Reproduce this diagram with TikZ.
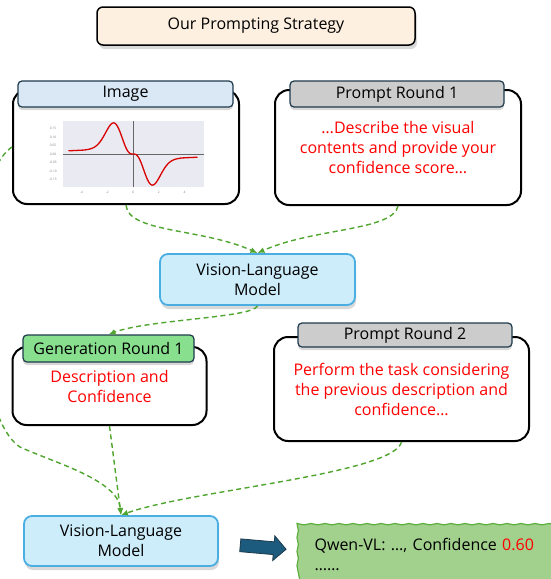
\documentclass[tikz,border=0pt]{standalone}
\usepackage{fontspec}
\setmainfont{Open Sans}
\usepackage{tikz}
\usetikzlibrary{positioning,arrows.meta,shadows,shapes.arrows,decorations.pathmorphing}

\definecolor{peach}{HTML}{FEF0E0}
\definecolor{tabblue}{HTML}{DAE8F5}
\definecolor{tabgray}{HTML}{CCCCCC}
\definecolor{tabgreen}{HTML}{88DF8E}
\definecolor{tabedge}{HTML}{1E3A4C}
\definecolor{vlmfill}{HTML}{CDEDFB}
\definecolor{vlmedge}{HTML}{4BAEE3}
\definecolor{flowgreen}{HTML}{4FA52E}
\definecolor{outfill}{HTML}{A2D18D}
\definecolor{outedge}{HTML}{5DAE3F}
\definecolor{arrfill}{HTML}{1C5B7D}
\definecolor{plotbg}{HTML}{EAEAF2}

\tikzset{
  every node/.style={font=\fontsize{16}{20}\selectfont},
  panel/.style={draw, line width=2pt, rounded corners=14pt, fill=white},
  tab/.style={draw=tabedge, line width=1.2pt, rounded corners=4pt,
    drop shadow={shadow xshift=0pt, shadow yshift=-3pt, opacity=0.3}},
  vlm/.style={draw=vlmedge, fill=vlmfill, line width=1.8pt, rounded corners=8pt,
    align=center, drop shadow={shadow xshift=1pt, shadow yshift=-4pt, opacity=0.3}},
  redtext/.style={text=red, align=center},
  flow/.style={draw=flowgreen, line width=1.4pt, dash pattern=on 5pt off 3.5pt,
    -{Latex[length=7pt,width=6pt]}},
  tick/.style={font=\fontsize{3.2}{3.2}\selectfont, text=gray, inner sep=0pt}
}

\begin{document}
\begin{tikzpicture}[x=1pt, y=-1pt]
\useasboundingbox (0,0) rectangle (551,579);

\node[draw, line width=1.5pt, rounded corners=6pt, fill=peach, minimum width=318pt, minimum height=38pt,
  drop shadow={shadow xshift=2pt, shadow yshift=-4pt, opacity=0.3}] (title) at (256, 26) {Our Prompting Strategy};

\node[panel, minimum width=226pt, minimum height=114pt] (img) at (126, 147) {};
\node[panel, minimum width=246pt, minimum height=115pt, redtext] (pr1) at (398, 147.5)
  {…Describe the visual\\contents and provide your\\confidence score…};
\node[tab, fill=tabblue, minimum width=215pt, minimum height=26pt] (imgtab) at (125.5, 94) {Image};
\node[tab, fill=tabgray, minimum width=214pt, minimum height=26pt] (pr1tab) at (397, 94) {Prompt Round 1};

\begin{scope}[shift={(133,154)}, x=12.9pt, y=171pt]
  \fill[plotbg] (-5.43,-0.193) rectangle (5.5,0.195);
  \draw[gray!80!black, line width=0.5pt] (-5.43,0) -- (5.5,0);
  \draw[gray!80!black, line width=0.5pt] (0,-0.193) -- (0,0.195);
  \draw[red!85!black, line width=1.3pt, domain=-5:5, samples=150, smooth]
    plot (\x, {-(0.366*(\x/1.22)*(\x/1.22)*(\x/1.22)*exp(-(\x/1.22)*(\x/1.22))
      + 0.1*\x*\x*\x/((1+\x*\x)*(1+\x*\x)))});
  \foreach \v/\t [count=\i] in {0.15/0.15, 0.10/0.10, 0.05/0.05, 0/0.00, -0.05/-0.05, -0.10/-0.10, -0.15/-0.15}
    \node[tick] (yt\i) at (-6.2, \v) {\t};
  \foreach \u [count=\i] in {-4,-2,0,2,4}
    \node[tick] (xt\i) at (\u, -0.222) {\u};
\end{scope}

\node[vlm, minimum width=195pt, minimum height=51pt] (vlm1) at (257.5, 279.5) {Vision-Language\\Model};

\node[panel, minimum width=194pt, minimum height=78pt, redtext] (gen1) at (109.5, 386) {Description and\\Confidence};
\node[panel, minimum width=255pt, minimum height=104pt, redtext] (pr2) at (401.5, 389)
  {Perform the task considering\\the previous description and\\confidence…};
\node[tab, fill=tabgreen, minimum width=171pt, minimum height=27pt] (gen1tab) at (108.5, 348.5) {Generation Round 1};
\node[tab, fill=tabgray, minimum width=214pt, minimum height=24pt] (pr2tab) at (405, 335) {Prompt Round 2};

\node[vlm, minimum width=194pt, minimum height=50pt] (vlm2) at (121, 541) {Vision-Language\\Model};

\node[single arrow, draw=tabedge, fill=arrfill, line width=0.8pt, inner sep=6pt, minimum height=46pt,
  single arrow head extend=6pt, rotate=-5] (arr) at (260, 547) {};

\node[draw=outedge, fill=outfill, line width=1.2pt, decorate, decoration={snake, amplitude=0.7pt, segment length=14pt},
  anchor=north west, minimum width=270pt, minimum height=54pt, inner xsep=11pt, text width=240pt, align=left]
  (out) at (299, 527) {Qwen-VL: …, Confidence \textcolor{red}{0.60}\\……};

\draw[flow] (img.south) .. controls +(2,28) and +(-55,-25) .. (vlm1.north);
\draw[flow] (pr1.south) .. controls +(-5,25) and +(55,-25) .. (vlm1.north);
\draw[flow] (vlm1.south) .. controls +(-5,12) and +(40,-15) .. (gen1tab.north);
\draw[flow] (gen1.south) -- (vlm2.north);
\draw[flow] (pr2.south) .. controls +(-8,32) and +(70,-25) .. (vlm2.north);
\draw[flow] (img.west) .. controls (-40,182) and (-30,415) .. (20,447)
  .. controls (55,463) and (118,480) .. (vlm2.north);

\end{tikzpicture}
\end{document}
